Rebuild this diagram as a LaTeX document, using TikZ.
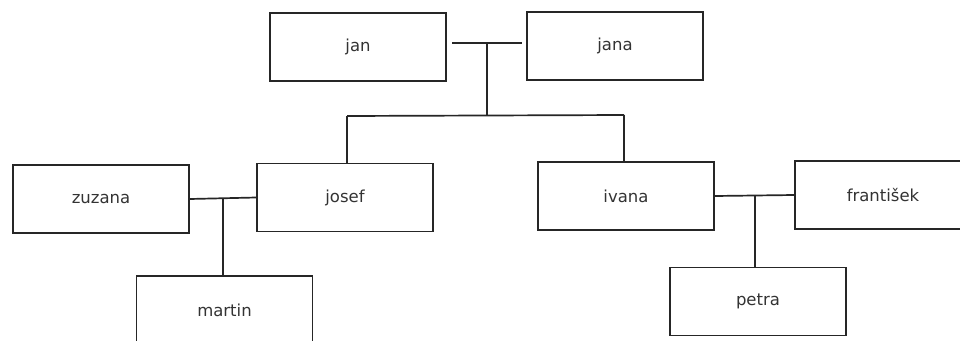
\documentclass[tikz,border=0pt]{standalone}
\usepackage{fontspec}
\setmainfont{DejaVu Sans}
\usetikzlibrary{calc}
\begin{document}
\begin{tikzpicture}[x=1pt,y=-1pt,
  person/.style={draw=black!85, line width=1.7pt, fill=white, minimum width=176pt, minimum height=68pt, inner sep=0pt, font=\fontsize{16.5}{18}\selectfont, text=black!80},
  link/.style={draw=black!85, line width=1.7pt}]
\clip (0,0) rectangle (960,340);
\fill[white] (0,0) rectangle (960,340);
\node[person] (jan) at (358,47) {jan};
\node[person] (jana) at (615,46) {jana};
\node[person] (zuzana) at (101,199) {zuzana};
\node[person] (josef) at (345,197.5) {josef};
\node[person] (ivana) at (626,196) {ivana};
\node[person] (frantisek) at (883,195) {františek};
\node[person] (martin) at (224.5,310) {martin};
\node[person] (petra) at (758,301.5) {petra};
\coordinate (mA) at (452,43);
\coordinate (mB) at (522,43);
\coordinate (m1) at (487,43);
\coordinate (c1) at (487,115);
\coordinate (cL) at (347,116);
\coordinate (cR) at (624,115);
\coordinate (m2) at (223,199);
\coordinate (m3) at (755,196);
\draw[link] (mA) -- (mB);
\draw[link] (m1) -- (c1);
\draw[link] (cL) -- (cR);
\draw[link] (cL) -- (cL |- josef.north);
\draw[link] (cR) -- (cR |- ivana.north);
\draw[link] (zuzana.east) -- (josef.west);
\draw[link] (m2) -- (m2 |- martin.north);
\draw[link] (ivana.east) -- (frantisek.west);
\draw[link] (m3) -- (m3 |- petra.north);
\end{tikzpicture}
\end{document}
